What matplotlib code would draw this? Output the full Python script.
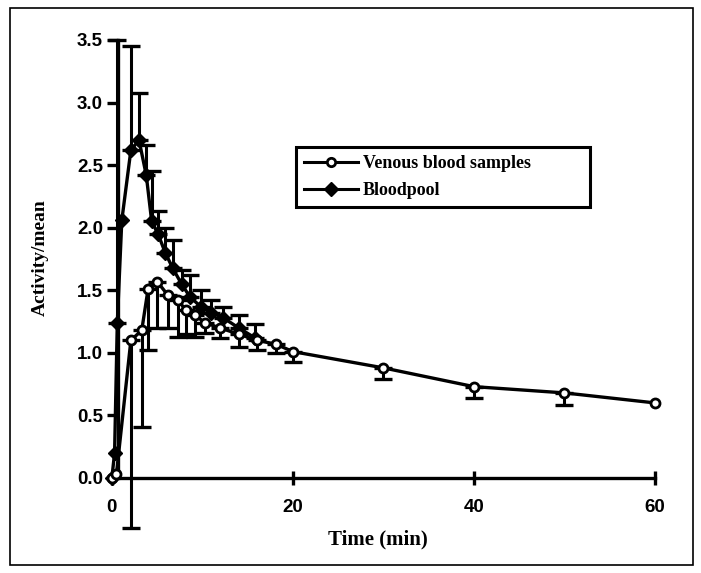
import numpy as np
import matplotlib
matplotlib.use('Agg')
import matplotlib.pyplot as plt
from matplotlib.patches import Rectangle
from matplotlib.lines import Line2D

# venous blood samples (open circles, error bars pointing down)
t_venous = [0, 0.5, 2.1, 3.3, 4.0, 5.0, 6.2, 7.3, 8.2, 9.2, 10.3, 11.9, 14.0, 16.0, 18.1, 20, 30, 40, 50, 60]
venous = [0.0, 0.03, 1.10, 1.18, 1.51, 1.57, 1.46, 1.42, 1.34, 1.30, 1.24, 1.20, 1.15, 1.10, 1.07, 1.01, 0.88, 0.73, 0.68, 0.60]
venous_low = [0.0, 0.03, -0.40, 0.41, 1.02, 1.20, 1.20, 1.13, 1.15, 1.13, 1.16, 1.12, 1.05, 1.02, 1.00, 0.93, 0.79, 0.64, 0.58, 0.60]

# bloodpool (filled diamonds, error bars pointing up)
t_pool = [0, 0.3, 0.6, 1.1, 2.1, 3.0, 3.8, 4.4, 5.1, 5.9, 6.7, 7.7, 8.6, 9.8, 11.0, 12.3, 14.0, 15.8]
pool = [0.0, 0.20, 1.24, 2.06, 2.62, 2.70, 2.42, 2.05, 1.95, 1.80, 1.68, 1.55, 1.45, 1.37, 1.32, 1.28, 1.20, 1.12]
pool_high = [0.0, 0.20, 3.50, 2.06, 3.45, 3.08, 2.66, 2.45, 2.13, 2.00, 1.90, 1.66, 1.62, 1.50, 1.42, 1.37, 1.30, 1.23]

x_ticks = [0, 20, 40, 60]
y_ticks = [0.0, 0.5, 1.0, 1.5, 2.0, 2.5, 3.0, 3.5]

W, H = 701, 573
fig = plt.figure(figsize=(W / 100, H / 100), dpi=100)
fig.patches.append(Rectangle((10 / W, 8 / H), 683 / W, 557 / H, transform=fig.transFigure,
                             fill=False, edgecolor='black', lw=1.2))

ax = fig.add_axes([101 / W, (H - 478) / H, (655 - 101) / W, (478 - 40) / H])
ax.set_xlim(-1.2, 60)
ax.set_ylim(0, 3.5)

# error bars only where there is a spread
tp, p, ph = np.array(t_pool), np.array(pool), np.array(pool_high)
m = ph > p
ax.errorbar(tp[m], p[m], yerr=[np.zeros(m.sum()), (ph - p)[m]], fmt='none', ecolor='black',
            capsize=6.5, capthick=2.4, elinewidth=2.2, clip_on=False, zorder=2)
tv, v, vl = np.array(t_venous), np.array(venous), np.array(venous_low)
m = vl < v
ax.errorbar(tv[m], v[m], yerr=[(v - vl)[m], np.zeros(m.sum())], fmt='none', ecolor='black',
            capsize=6.5, capthick=2.4, elinewidth=2.2, clip_on=False, zorder=2)

ax.plot(t_pool, pool, color='black', lw=2.4, marker='D', ms=7, mfc='black', mec='black',
        clip_on=False, zorder=3)
ax.plot(t_venous, venous, color='black', lw=2.4, marker='o', ms=6.5, mfc='white', mec='black',
        mew=2.0, clip_on=False, zorder=4)

for s in ['top', 'right']:
    ax.spines[s].set_visible(False)
ax.spines['left'].set_position(('data', 0.7))
ax.spines['left'].set_linewidth(2.4)
ax.spines['bottom'].set_linewidth(2.4)
ax.spines['bottom'].set_bounds(0.7, 60)

ax.set_xticks(x_ticks)
ax.set_yticks(y_ticks)
ax.set_yticklabels(['%.1f' % v for v in y_ticks])
ax.tick_params(axis='y', direction='out', length=8, width=2.4, pad=3)
ax.tick_params(axis='x', direction='inout', length=10, width=2.4, pad=10)
for lab in ax.get_xticklabels() + ax.get_yticklabels():
    lab.set_fontfamily('Liberation Sans')
    lab.set_fontweight('bold')
    lab.set_fontsize(13.5)

ax.set_xlabel('Time (min)', family='Liberation Serif', weight='bold', fontsize=15, labelpad=10)
fig.text(40 / W, 1 - 258 / H, 'Activity/mean', rotation=90, ha='center', va='center',
         family='Liberation Serif', weight='bold', fontsize=14)

handles = [Line2D([], [], color='black', lw=2.2, marker='o', ms=6, mfc='white', mec='black', mew=2),
           Line2D([], [], color='black', lw=2.2, marker='D', ms=7, mfc='black', mec='black')]
leg = fig.legend(handles, ['Venous blood samples', 'Bloodpool'], loc='upper left',
                 bbox_to_anchor=(296 / W, 1 - 215 / H, 294 / W, 68 / H), mode='expand',
                 borderaxespad=0, fancybox=False, handlelength=3.0, handletextpad=0.25,
                 borderpad=0.45, labelspacing=0.55, framealpha=1,
                 prop={'family': 'Liberation Serif', 'weight': 'bold', 'size': 13})
leg.get_frame().set_edgecolor('black')
leg.get_frame().set_linewidth(2.2)

fig.savefig('out.png', dpi=100)
